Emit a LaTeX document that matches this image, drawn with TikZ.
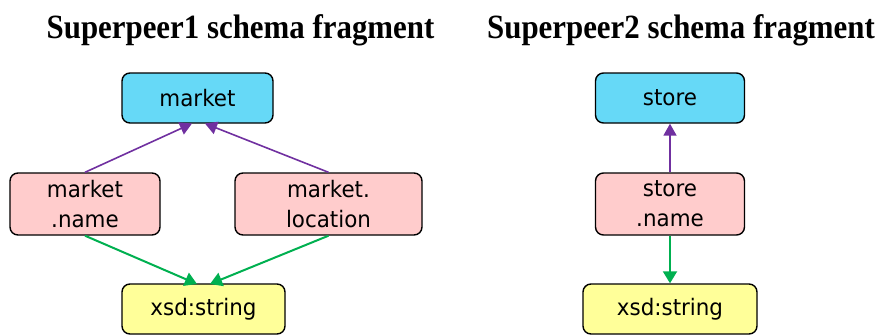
\documentclass[tikz,border=0pt]{standalone}
\usepackage{fontspec}
\setmainfont{Liberation Serif}
\newfontfamily\boxfont{DejaVu Sans}
\usetikzlibrary{arrows.meta}
\definecolor{clscyan}{HTML}{66D9F7}
\definecolor{proppink}{HTML}{FFCCCC}
\definecolor{typeyellow}{HTML}{FFFF99}
\definecolor{subpurple}{HTML}{7030A0}
\definecolor{rangegreen}{HTML}{00B050}
\tikzset{
  boxbase/.style={draw=black, line width=1.4bp, rounded corners=8bp, align=center,
    font=\boxfont\fontsize{21.5}{28.5}\selectfont, inner sep=0pt},
  clsbox/.style={boxbase, fill=clscyan, minimum height=50bp},
  propbox/.style={boxbase, fill=proppink, minimum height=62bp},
  typebox/.style={boxbase, fill=typeyellow, minimum height=50bp},
  boxlabel/.style={boxbase, draw=none, yscale=1.06},
  subarrow/.style={draw=subpurple, line width=1.6bp, -{Triangle[length=12bp,width=13bp]}},
  rangearrow/.style={draw=rangegreen, line width=2bp, -{Triangle[length=12bp,width=14bp]}},
  titletext/.style={font=\bfseries\fontsize{31}{34}\selectfont, inner sep=0pt, yscale=1.1}
}
\begin{document}
\begin{tikzpicture}[x=1bp,y=-1bp]
\useasboundingbox (0,0) rectangle (881,334);
\node[titletext, anchor=base] (t1) at (240.5,38) {Superpeer1 schema fragment};
\node[titletext, anchor=base] (t2) at (681,38) {Superpeer2 schema fragment};
% left fragment
\node[clsbox, minimum width=151bp] (market) at (197.5,98) {};
\node[boxlabel] (marketlbl) at (market) {market};
\node[propbox, minimum width=150bp] (mname) at (85,204) {};
\node[boxlabel] (mnamelbl) at (mname) {market\\.name};
\node[propbox, minimum width=187bp] (mloc) at (328.5,204) {};
\node[boxlabel] (mloclbl) at (mloc) {market.\\location};
\node[typebox, minimum width=163bp] (xs1) at (203.5,309) {};
\node[boxlabel] (xs1lbl) at (xs1) {xsd:string};
\coordinate (mtipL) at (192,123.5);
\coordinate (mtipR) at (205,123.5);
\coordinate (xtipL) at (197,284);
\coordinate (xtipR) at (210,284);
\draw[subarrow] (mname.north) -- (mtipL);
\draw[subarrow] (mloc.north) -- (mtipR);
\draw[rangearrow] (mname.south) -- (xtipL);
\draw[rangearrow] (mloc.south) -- (xtipR);
% right fragment
\node[clsbox, minimum width=149bp] (store) at (670,98) {};
\node[boxlabel] (storelbl) at (store) {store};
\node[propbox, minimum width=149bp] (sname) at (670,204) {};
\node[boxlabel] (snamelbl) at (sname) {store\\.name};
\node[typebox, minimum width=174bp] (xs2) at (670,309) {};
\node[boxlabel] (xs2lbl) at (xs2) {xsd:string};
\draw[subarrow, line width=1.8bp] (sname.north) -- (store.south);
\draw[rangearrow] (sname.south) -- (xs2.north);
\end{tikzpicture}
\end{document}
